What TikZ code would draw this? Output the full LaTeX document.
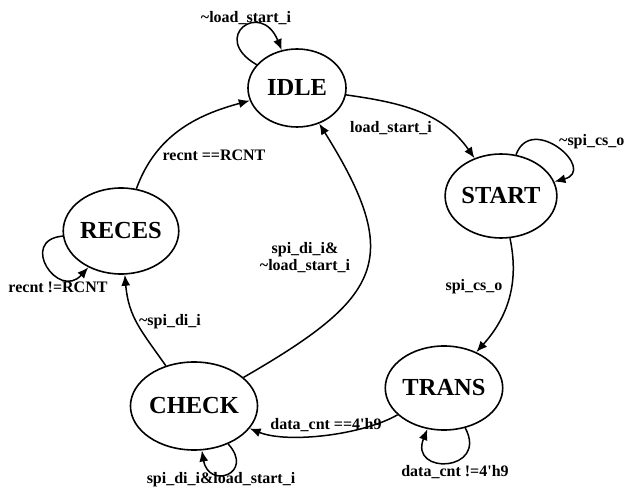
\documentclass[tikz,border=0pt]{standalone}
\usepackage{fontspec}
\setmainfont{Liberation Serif}
\usetikzlibrary{shapes.geometric,arrows.meta}

\begin{document}
\begin{tikzpicture}[x=1pt,y=1pt,
	state/.style={ellipse,draw,line width=1.6pt,inner sep=0pt,font=\fontsize{24.5}{26}\selectfont\bfseries},
	trans/.style={-{Latex[length=11pt,width=9pt]},line width=1.5pt},
	cond/.style={inner sep=0pt,align=center,font=\fontsize{16}{17}\selectfont\bfseries}]
	\useasboundingbox (0,0) rectangle (627,488);
%%% Zustaende
	\foreach \n/\x/\y/\w/\h in {IDLE/297/400/98/78, START/501/292/96/84, RECES/121/257/92/86, TRANS/444/100/98/84, CHECK/194/82/98/88}{
		\node[state,minimum width=\w pt,minimum height=\h pt] (\n) at (\x,\y) {\n};
	}
%%% Uebergaenge
	\draw[trans] (IDLE) to[out=-8,in=125] (START) ;
	\draw[trans] (START) to[out=-78,in=48] (TRANS) ;
	\draw[trans] (TRANS) to[out=210,in=-22,looseness=0.7] (CHECK) ;
	\draw[trans] (CHECK) to[out=125,in=-85,looseness=1.1] (RECES) ;
	\draw[trans] (RECES) to[out=70,in=195] (IDLE) ;
	\draw[trans] (CHECK) to[out=30,in=-58,looseness=1.55] (IDLE) ;
%%% Schleifen
	\foreach \s/\o/\i/\dist in {IDLE/150/112/55, START/70/15/45, RECES/185/228/45, TRANS/-62/-112/50, CHECK/-48/-80/40}{
		\draw[trans] (\s) to[out=\o,in=\i,distance=\dist pt] (\s) ;
	}
%%% Bedingungen
	\node[cond] (cIdle) at (246,470) {\textasciitilde load\_start\_i};
	\node[cond] (cIdleStart) at (391,360) {load\_start\_i};
	\node[cond,anchor=west] (cStart) at (559,346) {\textasciitilde spi\_cs\_o};
	\node[cond] (cStartTrans) at (474,201) {spi\_cs\_o};
	\node[cond] (cRecesIdle) at (214,333) {recnt ==RCNT};
	\node[cond] (cReces) at (58,201) {recnt !=RCNT};
	\node[cond] (cCheckIdle) at (305,230) {spi\_di\_i\&\\\textasciitilde load\_start\_i};
	\node[cond] (cCheckReces) at (170,166) {\textasciitilde spi\_di\_i};
	\node[cond] (cTransCheck) at (326,63) {data\_cnt ==4\textquotesingle h9};
	\node[cond] (cTrans) at (455,16) {data\_cnt !=4\textquotesingle h9};
	\node[cond] (cCheck) at (221,8) {spi\_di\_i\&load\_start\_i};
\end{tikzpicture}
\end{document}
